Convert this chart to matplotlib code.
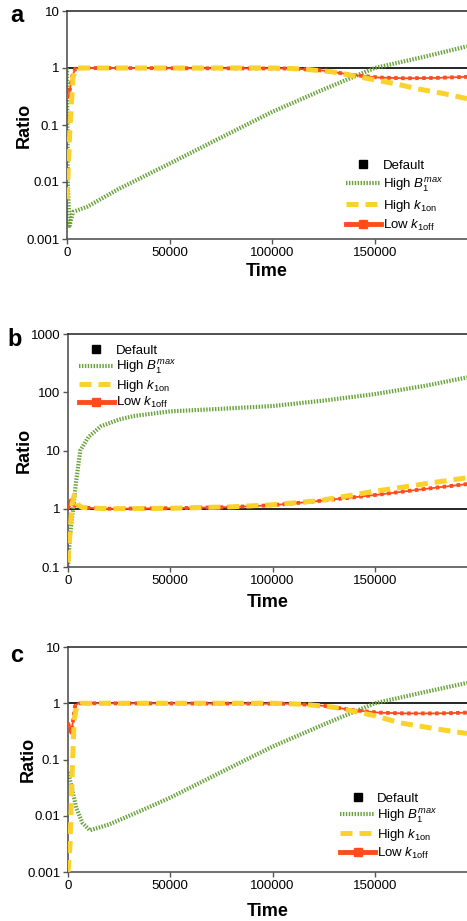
import matplotlib
matplotlib.use("Agg")
import matplotlib.pyplot as plt
from matplotlib.lines import Line2D

plt.rcParams['font.family'] = ['Liberation Sans', 'DejaVu Sans']
plt.rcParams['mathtext.fontset'] = 'custom'
plt.rcParams['mathtext.rm'] = 'Liberation Sans'
plt.rcParams['mathtext.it'] = 'Liberation Sans:italic'
plt.rcParams['mathtext.bf'] = 'Liberation Sans:bold'

# ---------------- data ----------------
default_t = [0, 195000]
default_r = [1.0, 1.0]

# Panel a
a_green_t = [0, 400, 1200, 3000, 10000, 25000, 50000, 75000, 100000, 125000, 150000, 175000, 195000]
a_green_r = [1.0, 0.01, 0.0017, 0.003, 0.0037, 0.0075, 0.021, 0.06, 0.17, 0.42, 1.0, 1.6, 2.4]
a_yellow_t = [0, 1500, 3000, 5000, 100000, 115000, 130000, 146000, 160000, 171000, 183000, 195000]
a_yellow_r = [0.005, 0.1, 0.7, 1.0, 1.0, 0.96, 0.85, 0.66, 0.53, 0.43, 0.36, 0.29]
a_red_t = [0, 1000, 2500, 4000, 6000, 110000, 125000, 140000, 152000, 165000, 180000, 195000]
a_red_r = [0.3, 0.35, 0.7, 0.97, 1.0, 0.98, 0.9, 0.75, 0.68, 0.66, 0.67, 0.70]

# Panel b
b_green_t = [0, 1000, 2500, 4000, 6000, 10000, 16000, 25000, 32000, 50000, 75000, 100000, 125000, 150000, 175000, 195000]
b_green_r = [0.1, 0.35, 1.0, 3.0, 10, 17, 26, 34, 39, 47, 52, 58, 72, 93, 130, 180]
b_yellow_t = [0, 1000, 2000, 3000, 4500, 7000, 20000, 50000, 80000, 100000, 123000, 150000, 175000, 195000]
b_yellow_r = [0.12, 0.4, 1.2, 1.7, 1.2, 1.05, 1.0, 1.02, 1.08, 1.17, 1.38, 2.0, 2.7, 3.4]
b_red_t = [0, 800, 1500, 3000, 6000, 20000, 50000, 80000, 100000, 120000, 150000, 175000, 195000]
b_red_r = [1.0, 1.25, 1.4, 1.15, 1.05, 1.0, 1.02, 1.07, 1.15, 1.33, 1.72, 2.2, 2.65]

# Panel c
c_green_t = [0, 2000, 4000, 7000, 10700, 20000, 35000, 50000, 75000, 100000, 125000, 150000, 175000, 195000]
c_green_r = [0.06, 0.03, 0.014, 0.0075, 0.0055, 0.007, 0.012, 0.021, 0.06, 0.17, 0.42, 1.0, 1.6, 2.3]
c_yellow_t = [0, 1000, 2000, 3000, 4500, 6000, 100000, 115000, 130000, 150000, 162000, 180000, 195000]
c_yellow_r = [0.001, 0.003, 0.05, 0.5, 0.95, 1.0, 1.0, 0.96, 0.85, 0.6, 0.45, 0.35, 0.29]
c_red_t = [0, 800, 1600, 2500, 3500, 5000, 110000, 125000, 140000, 152000, 165000, 180000, 195000]
c_red_r = [0.45, 0.35, 0.3, 0.5, 0.9, 1.0, 0.98, 0.9, 0.75, 0.68, 0.66, 0.66, 0.68]

x_ticks = [0, 50000, 100000, 150000]
x_tick_labels = ['0', '50000', '100000', '150000']
yticks_ac = [0.001, 0.01, 0.1, 1, 10]
ylabels_ac = ['0.001', '0.01', '0.1', '1', '10']
yticks_b = [0.1, 1, 10, 100, 1000]
ylabels_b = ['0.1', '1', '10', '100', '1000']

labels = ['Default', r'High $B_1^{max}$', r'High $k_{\mathrm{1on}}$', r'Low $k_{\mathrm{1off}}$']

GREEN = '#6aa33c'
YELLOW = '#fbd22b'
RED = '#ff4c1e'
SPINE = '#555555'

fig = plt.figure(figsize=(4.67, 9.21), dpi=100)
W, H = 467.0, 921.0


def make_ax(left, top, bottom):
    return fig.add_axes([left / W, 1 - bottom / H, 1 - left / W, (bottom - top) / H])


def style(ax, yt, yl, ylab_x, xpad):
    ax.set_yscale('log')
    ax.set_xlim(0, 195000)
    ax.set_ylim(yt[0], yt[-1])
    ax.set_yticks(yt)
    ax.set_yticklabels(yl)
    ax.minorticks_off()
    ax.set_xticks(x_ticks)
    ax.set_xticklabels(x_tick_labels)
    ax.tick_params(axis='both', labelsize=9.5, direction='out', length=3.5,
                   color=SPINE, width=1.0, pad=2)
    for s in ['left', 'bottom', 'top']:
        ax.spines[s].set_color(SPINE)
        ax.spines[s].set_linewidth(1.2)
    ax.spines['top'].set_color('#333333')
    ax.spines['right'].set_visible(False)
    ax.set_xlabel('Time', fontsize=13, fontweight='bold', labelpad=xpad)
    ax.set_ylabel('Ratio', fontsize=13, fontweight='bold')
    ax.yaxis.set_label_coords(ylab_x, 0.5)


def draw(ax, gt, gr, yt, yr, rt, rr):
    ax.plot(default_t, default_r, color='black', lw=1.2, zorder=1)
    ax.plot(gt, gr, color=GREEN, lw=3.0, dashes=(0.35, 0.35), zorder=2)
    ax.plot(rt, rr, color=RED, lw=1.3, zorder=3)
    ax.plot(rt, rr, color=RED, lw=2.8, dashes=(0.9, 0.9), zorder=3)
    ax.plot(yt, yr, color=YELLOW, lw=3.6, dashes=(2.4, 1.4), zorder=4)


def legend(ax, loc, anchor, spacing):
    handles = [
        Line2D([], [], color='black', marker='s', ls='none', ms=6),
        Line2D([], [], color=GREEN, lw=3.0, dashes=(0.35, 0.35)),
        Line2D([], [], color=YELLOW, lw=3.6, dashes=(2.4, 1.4)),
        Line2D([], [], color=RED, lw=3.5, marker='s', ms=6),
    ]
    ax.legend(handles, labels, loc=loc, bbox_to_anchor=anchor, frameon=False,
              fontsize=9.5, handlelength=2.6, handletextpad=0.2,
              labelspacing=spacing, borderaxespad=0, borderpad=0.1)


ax_a = make_ax(67, 11, 239)
draw(ax_a, a_green_t, a_green_r, a_yellow_t, a_yellow_r, a_red_t, a_red_r)
style(ax_a, yticks_ac, ylabels_ac, -0.085, 3)
legend(ax_a, 'lower right', (0.945, 0.02), 0.32)

ax_b = make_ax(68, 334, 567)
draw(ax_b, b_green_t, b_green_r, b_yellow_t, b_yellow_r, b_red_t, b_red_r)
style(ax_b, yticks_b, ylabels_b, -0.088, 5)
legend(ax_b, 'upper left', (0.025, 0.96), 0.12)

ax_c = make_ax(68, 647, 872)
draw(ax_c, c_green_t, c_green_r, c_yellow_t, c_yellow_r, c_red_t, c_red_r)
style(ax_c, yticks_ac, ylabels_ac, -0.078, 8)
legend(ax_c, 'lower right', (0.93, 0.045), 0.18)

fig.text(17 / W, 1 - 15 / H, 'a', fontsize=17, fontweight='bold', ha='center', va='center')
fig.text(15 / W, 1 - 340 / H, 'b', fontsize=17, fontweight='bold', ha='center', va='center')
fig.text(17 / W, 1 - 656 / H, 'c', fontsize=17, fontweight='bold', ha='center', va='center')

fig.savefig('out.png', dpi=100)
